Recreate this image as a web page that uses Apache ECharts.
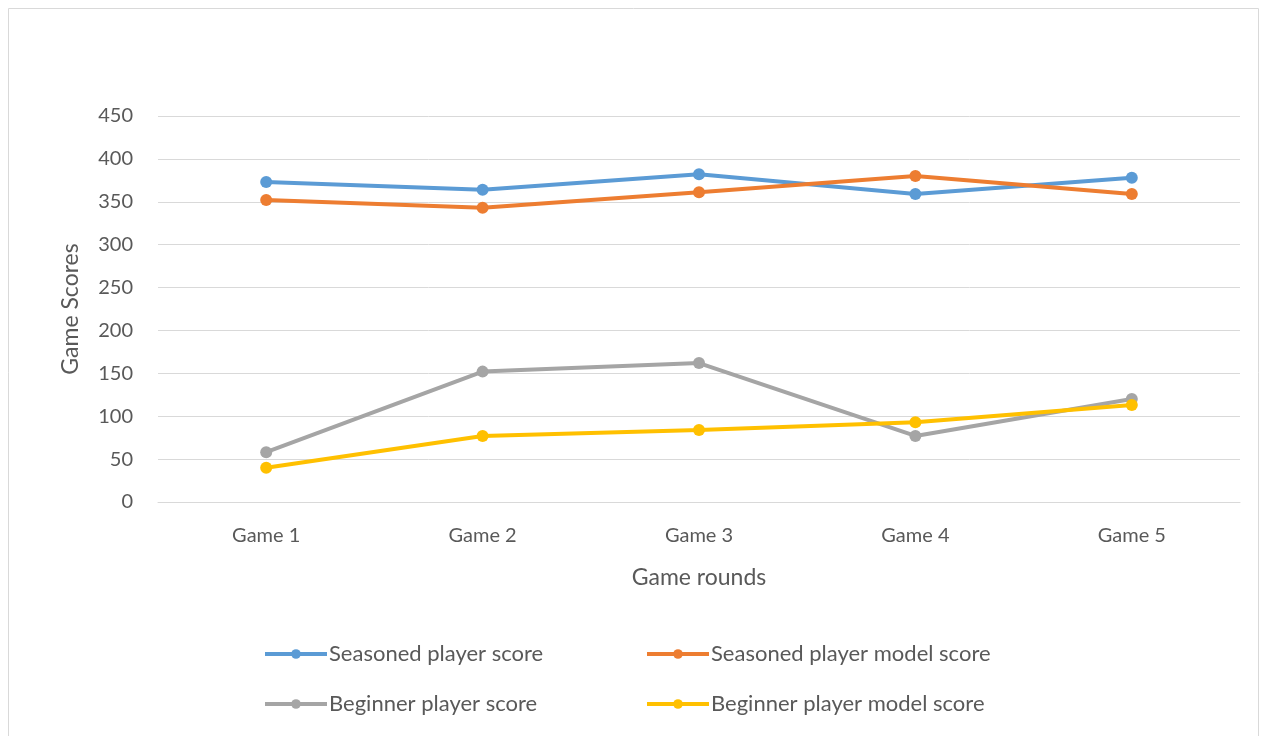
<!DOCTYPE html>
<html>
<head>
    <meta charset="utf-8">
    <title>Game Scores</title>
    <script src="https://cdn.jsdelivr.net/npm/echarts@6/dist/echarts.min.js"></script>
    <style>
        html, body { margin: 0; padding: 0; background: #fff; }
    </style>
</head>
<body>
<div id="main" style="width: 1262px;height:736px;"></div>
<script type="text/javascript">
    var rounds = ['Game 1', 'Game 2', 'Game 3', 'Game 4', 'Game 5'];
    var seasonedScore = [373, 364, 382, 359, 378];
    var seasonedModel = [352, 343, 361, 380, 359];
    var beginnerScore = [58, 152, 162, 77, 120];
    var beginnerModel = [40, 77, 84, 93, 113];

    var font = 'Lato';
    var grey = '#595959';

    function line(name, color, data) {
        return {
            name: name,
            type: 'line',
            data: data,
            symbol: 'circle',
            symbolSize: 12,
            itemStyle: { color: color },
            lineStyle: { color: color, width: 4 },
            emphasis: { disabled: true }
        };
    }

    // one legend per item so each sits where the reference puts it
    function legendAt(name, left, top) {
        return {
            data: [name],
            left: left,
            top: top,
            itemWidth: 62,
            itemHeight: 12,
            itemGap: 0,
            lineStyle: { width: 4 },
            textStyle: { color: grey, fontFamily: font, fontSize: 22, padding: [0, 0, 0, -3] }
        };
    }

    var myChart = echarts.init(document.getElementById('main'));
    var option = {
        animation: false,
        graphic: [{
            type: 'rect',
            shape: { x: 8.5, y: 8.5, width: 1250, height: 740 },
            style: { fill: 'none', stroke: '#d9d9d9', lineWidth: 1 }
        }],
        legend: [
            legendAt('Seasoned player score', 258, 638),
            legendAt('Seasoned player model score', 640, 638),
            legendAt('Beginner player score', 258, 688),
            legendAt('Beginner player model score', 640, 688)
        ],
        grid: { left: 158, right: 22, top: 116, bottom: 234 },
        xAxis: {
            type: 'category',
            data: rounds,
            name: 'Game rounds',
            nameLocation: 'middle',
            nameGap: 64,
            nameTextStyle: { color: grey, fontFamily: font, fontSize: 23 },
            axisLine: { lineStyle: { color: '#d9d9d9' } },
            axisTick: { show: false },
            axisLabel: { color: grey, fontFamily: font, fontSize: 20, margin: 24 }
        },
        yAxis: {
            type: 'value',
            min: 0,
            max: 450,
            interval: 50,
            name: 'Game Scores',
            nameLocation: 'middle',
            nameGap: 76,
            nameTextStyle: { color: grey, fontFamily: font, fontSize: 23 },
            axisLine: { show: false },
            axisTick: { show: false },
            axisLabel: { color: grey, fontFamily: font, fontSize: 20, margin: 25 },
            splitLine: { lineStyle: { color: '#d9d9d9', width: 1 } }
        },
        series: [
            line('Seasoned player score', '#5B9BD5', seasonedScore),
            line('Seasoned player model score', '#ED7D31', seasonedModel),
            line('Beginner player score', '#A5A5A5', beginnerScore),
            line('Beginner player model score', '#FFC000', beginnerModel)
        ]
    };
    myChart.setOption(option);
</script>
</body>
</html>
